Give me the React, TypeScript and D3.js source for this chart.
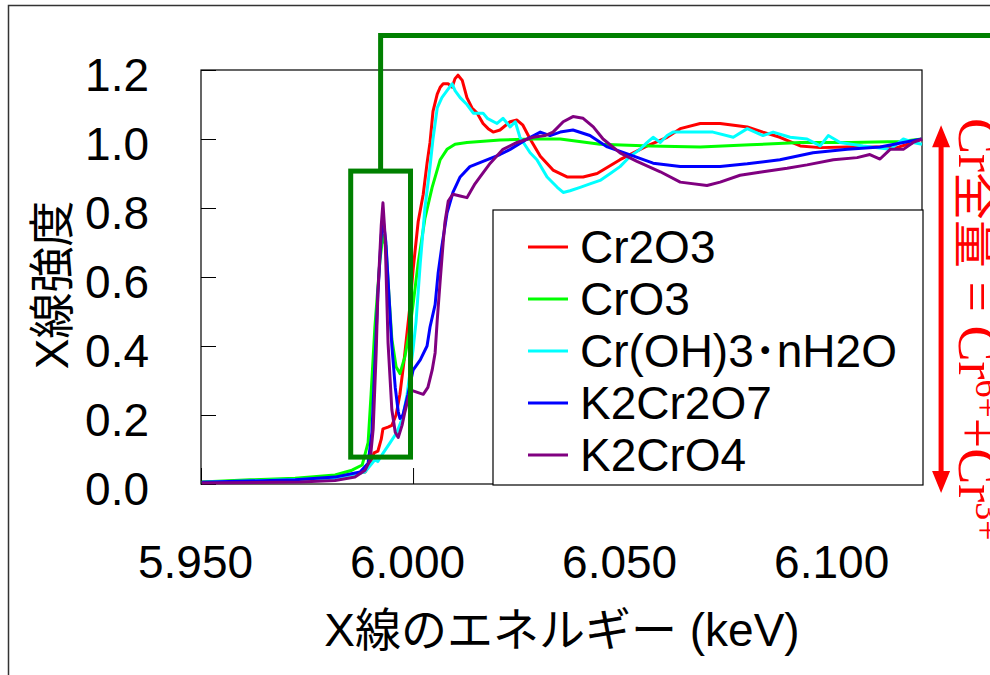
import React, { useEffect, useRef } from "react";
import * as d3 from "d3";

// values (energy keV, normalised intensity)
const xTicks = [5.95, 6.0, 6.05, 6.1];
const yTicks = [0, 0.2, 0.4, 0.6, 0.8, 1.0, 1.2];
const seriesNames = ["Cr2O3", "CrO3", "Cr(OH)3･nH2O", "K2Cr2O7", "K2CrO4"];
const seriesColors = ["#ff0000", "#00ff00", "#00ffff", "#0000ff", "#800080"];

const cr2o3: [number, number][] = [
  [5.9502, 0.005], [5.9722, 0.014], [5.9816, 0.02], [5.9887, 0.035], [5.9899, 0.06],
  [5.9908, 0.09], [5.9917, 0.095], [5.9925, 0.13], [5.9929, 0.16], [5.9941, 0.165],
  [5.995, 0.17], [5.996, 0.2], [5.9969, 0.26], [5.9979, 0.36], [5.9986, 0.44],
  [5.9993, 0.52], [6.0, 0.62], [6.0012, 0.76], [6.0024, 0.84], [6.0033, 0.93],
  [6.004, 0.99], [6.0047, 1.08], [6.0057, 1.13], [6.0064, 1.15], [6.0071, 1.16],
  [6.0083, 1.16], [6.0092, 1.15], [6.0099, 1.175], [6.0106, 1.185], [6.0116, 1.17],
  [6.0127, 1.12], [6.0139, 1.09], [6.0151, 1.075], [6.0165, 1.045], [6.0177, 1.03],
  [6.0189, 1.02], [6.0205, 1.026], [6.0229, 1.05], [6.0245, 1.055], [6.0259, 1.04],
  [6.0276, 1.0], [6.03, 0.95], [6.033, 0.91], [6.0363, 0.89], [6.0401, 0.89],
  [6.0434, 0.9], [6.0488, 0.94], [6.0552, 0.98], [6.0599, 1.005], [6.063, 1.03],
  [6.0677, 1.045], [6.0724, 1.045], [6.0788, 1.035], [6.0825, 1.02], [6.0865, 1.005],
  [6.0913, 0.98], [6.096, 0.975], [6.1024, 0.977], [6.1101, 0.977], [6.1141, 0.975],
  [6.1179, 0.99], [6.12, 1.0],
];

const cro3: [number, number][] = [
  [5.9502, 0.006], [5.9616, 0.012], [5.9722, 0.017], [5.9816, 0.026], [5.9856, 0.04],
  [5.988, 0.055], [5.9894, 0.12], [5.9901, 0.26], [5.991, 0.455], [5.9922, 0.65],
  [5.9929, 0.72], [5.9936, 0.69], [5.9943, 0.55], [5.995, 0.42], [5.996, 0.34],
  [5.9969, 0.32], [5.9981, 0.37], [5.9991, 0.44], [6.0, 0.52], [6.0012, 0.64],
  [6.0028, 0.77], [6.0045, 0.86], [6.0064, 0.94], [6.008, 0.97], [6.0099, 0.985],
  [6.0127, 0.99], [6.0205, 0.997], [6.0283, 1.0], [6.0347, 1.0], [6.0441, 0.985],
  [6.0559, 0.98], [6.0677, 0.977], [6.0795, 0.983], [6.0913, 0.99], [6.1031, 0.99],
  [6.1149, 0.993], [6.12, 1.0],
];

const croh3: [number, number][] = [
  [5.9502, 0.005], [5.9722, 0.013], [5.9816, 0.017], [5.9887, 0.035], [5.991, 0.07],
  [5.9917, 0.065], [5.9927, 0.085], [5.9946, 0.12], [5.9962, 0.15], [5.9976, 0.195],
  [5.9986, 0.26], [6.0, 0.39], [6.0007, 0.47], [6.0017, 0.64], [6.0028, 0.8],
  [6.004, 0.92], [6.0047, 1.0], [6.0057, 1.09], [6.0068, 1.12], [6.008, 1.14],
  [6.0092, 1.16], [6.0099, 1.14], [6.0111, 1.12], [6.0127, 1.1], [6.0142, 1.075],
  [6.0165, 1.075], [6.0175, 1.06], [6.0198, 1.045], [6.0212, 1.06], [6.0229, 1.035],
  [6.0241, 1.05], [6.0252, 1.005], [6.0276, 0.96], [6.0292, 0.94], [6.0316, 0.89],
  [6.034, 0.86], [6.0354, 0.845], [6.037, 0.85], [6.0394, 0.86], [6.0417, 0.87],
  [6.0441, 0.88], [6.0465, 0.9], [6.0488, 0.92], [6.0512, 0.95], [6.0535, 0.97],
  [6.0552, 0.99], [6.0566, 1.005], [6.0583, 0.99], [6.0599, 1.01], [6.0613, 1.02],
  [6.0646, 1.02], [6.0707, 1.02], [6.0755, 1.005], [6.0788, 1.03], [6.0825, 1.01],
  [6.0849, 1.02], [6.0889, 1.005], [6.0929, 1.0], [6.096, 0.98], [6.0979, 1.01],
  [6.1007, 0.99], [6.1061, 0.98], [6.1125, 0.97], [6.1156, 1.0], [6.1179, 0.99],
  [6.12, 0.985],
];

const k2cr2o7: [number, number][] = [
  [5.9502, 0.005], [5.9722, 0.012], [5.9816, 0.02], [5.9875, 0.035], [5.9894, 0.06],
  [5.9903, 0.15], [5.991, 0.35], [5.9917, 0.55], [5.9925, 0.72], [5.9929, 0.77],
  [5.9936, 0.7], [5.9943, 0.55], [5.995, 0.4], [5.9958, 0.28], [5.9965, 0.21],
  [5.9969, 0.19], [5.9976, 0.2], [5.9988, 0.26], [6.0, 0.33], [6.0017, 0.36],
  [6.0033, 0.4], [6.004, 0.455], [6.0052, 0.52], [6.0059, 0.61], [6.0068, 0.69],
  [6.008, 0.785], [6.0094, 0.845], [6.0111, 0.89], [6.0134, 0.92], [6.0165, 0.935],
  [6.0205, 0.955], [6.0229, 0.97], [6.0269, 1.0], [6.03, 1.02], [6.0323, 1.01],
  [6.0347, 1.02], [6.0377, 1.026], [6.0417, 1.01], [6.0458, 0.977], [6.0512, 0.954],
  [6.0566, 0.93], [6.063, 0.92], [6.0724, 0.92], [6.0788, 0.928], [6.0865, 0.94],
  [6.0943, 0.96], [6.1024, 0.97], [6.1101, 0.977], [6.1156, 0.99], [6.12, 1.0],
];

const k2cro4: [number, number][] = [
  [5.9502, 0.003], [5.9733, 0.006], [5.9816, 0.01], [5.9863, 0.02], [5.9887, 0.04],
  [5.9899, 0.07], [5.9906, 0.16], [5.9913, 0.38], [5.9917, 0.55], [5.9925, 0.75],
  [5.9929, 0.815], [5.9934, 0.72], [5.9941, 0.41], [5.995, 0.215], [5.9958, 0.15],
  [5.9965, 0.135], [5.9974, 0.17], [5.9981, 0.21], [5.9993, 0.27], [6.0, 0.27],
  [6.0012, 0.265], [6.0024, 0.26], [6.0035, 0.28], [6.0045, 0.33], [6.0052, 0.38],
  [6.0057, 0.475], [6.0064, 0.59], [6.0071, 0.7], [6.0075, 0.757], [6.0083, 0.82],
  [6.0094, 0.84], [6.0111, 0.835], [6.0127, 0.83], [6.0146, 0.87], [6.0158, 0.89],
  [6.0182, 0.93], [6.0212, 0.97], [6.0245, 0.99], [6.0283, 1.005], [6.0311, 1.01],
  [6.033, 1.02], [6.0354, 1.05], [6.0377, 1.065], [6.0401, 1.06], [6.0425, 1.035],
  [6.0448, 1.0], [6.0488, 0.96], [6.0528, 0.935], [6.0583, 0.905], [6.063, 0.875],
  [6.0693, 0.865], [6.0724, 0.875], [6.0771, 0.895], [6.0825, 0.905], [6.0882, 0.915],
  [6.0929, 0.925], [6.0991, 0.94], [6.1047, 0.946], [6.1077, 0.955], [6.1101, 0.942],
  [6.1125, 0.97], [6.1156, 0.97], [6.1179, 0.99], [6.12, 1.0],
];

const allSeries = [cr2o3, cro3, croh3, k2cr2o7, k2cro4];

// annotation extents in data units
const zoomBoxE = [5.9853, 5.9994];
const zoomBoxI = [0.078, 0.907];
const leaderTopI = 1.3;
const arrowE = 6.1245;
const arrowI = [1.04, -0.026];

const SANS = "'Liberation Sans', Arial, 'Noto Sans CJK JP', sans-serif";
const SERIF = "'Liberation Serif', 'Times New Roman', serif";

export default function App() {
  const svgRef = useRef<SVGSVGElement>(null);

  useEffect(() => {
    const svg = d3.select(svgRef.current);
    svg.selectAll("*").remove();

    const x = d3.scaleLinear().domain([5.95, 6.12]).range([201, 922]);
    const y = d3.scaleLinear().domain([0, 1.2]).range([484, 70]);

    // outer frame of the picture
    svg.append("rect")
      .attr("x", 8.5).attr("y", 5.5).attr("width", 1100).attr("height", 1100)
      .attr("fill", "#fff").attr("stroke", "#333").attr("stroke-width", 1.5);

    // plot frame
    svg.append("rect")
      .attr("x", x(5.95)).attr("y", y(1.2))
      .attr("width", x(6.12) - x(5.95)).attr("height", y(0) - y(1.2))
      .attr("fill", "#fff").attr("stroke", "#000").attr("stroke-width", 1.2);

    // y axis, ticks pointing inward
    const gy = svg.append("g")
      .attr("transform", `translate(${x(5.95)},0)`)
      .call(d3.axisLeft(y).tickValues(yTicks).tickSize(-15).tickSizeOuter(0).tickPadding(52).tickFormat(d3.format(".1f")));
    gy.select(".domain").remove();
    gy.selectAll("line").attr("stroke", "#000");
    gy.selectAll("text")
      .attr("font-family", SANS).attr("font-size", 46).attr("fill", "#000").attr("dy", "0.44em");

    // x axis
    const gx = svg.append("g")
      .attr("transform", `translate(0,${y(0)})`)
      .call(d3.axisBottom(x).tickValues(xTicks).tickSize(-16).tickSizeOuter(0).tickPadding(94).tickFormat(d3.format(".3f")));
    gx.select(".domain").remove();
    gx.selectAll("line").attr("stroke", "#000");
    gx.selectAll("text")
      .attr("font-family", SANS).attr("font-size", 46).attr("fill", "#000").attr("dy", 0).attr("dx", -6);

    // spectra
    const lineGen = d3.line<[number, number]>()
      .x((d) => x(d[0]))
      .y((d) => y(d[1]));

    allSeries.forEach((s, i) => {
      svg.append("path")
        .datum(s)
        .attr("fill", "none")
        .attr("stroke", seriesColors[i])
        .attr("stroke-width", 3)
        .attr("stroke-linejoin", "round")
        .attr("d", lineGen);
    });

    // legend
    const lg = svg.append("g");
    lg.append("rect")
      .attr("x", 493).attr("y", 210).attr("width", 430).attr("height", 275)
      .attr("fill", "#fff").attr("stroke", "#000").attr("stroke-width", 1.2);
    seriesNames.forEach((name, i) => {
      const ry = 247 + i * 52;
      lg.append("line")
        .attr("x1", 528).attr("x2", 568).attr("y1", ry).attr("y2", ry)
        .attr("stroke", seriesColors[i]).attr("stroke-width", 3);
      lg.append("text")
        .attr("x", 580).attr("y", ry + 16)
        .attr("font-family", SANS).attr("font-size", 46).attr("fill", "#000")
        .text(name);
    });

    // green zoom box and leader line
    const green = "#008000";
    svg.append("rect")
      .attr("x", x(zoomBoxE[0])).attr("y", y(zoomBoxI[1]))
      .attr("width", x(zoomBoxE[1]) - x(zoomBoxE[0]))
      .attr("height", y(zoomBoxI[0]) - y(zoomBoxI[1]))
      .attr("fill", "none").attr("stroke", green).attr("stroke-width", 5);
    const cx = (x(zoomBoxE[0]) + x(zoomBoxE[1])) / 2;
    svg.append("path")
      .attr("d", `M${cx},${y(zoomBoxI[1])} V${y(leaderTopI)} H${x(6.15)}`)
      .attr("fill", "none").attr("stroke", green).attr("stroke-width", 5);

    // red double arrow
    const ax = x(arrowE);
    const aTop = y(arrowI[0]);
    const aBot = y(arrowI[1]);
    svg.append("line")
      .attr("x1", ax).attr("x2", ax).attr("y1", aTop + 15).attr("y2", aBot - 15)
      .attr("stroke", "#ff0000").attr("stroke-width", 5);
    svg.append("path")
      .attr("d", `M${ax},${aTop} L${ax - 9},${aTop + 22} L${ax + 9},${aTop + 22} Z M${ax},${aBot} L${ax - 9},${aBot - 22} L${ax + 9},${aBot - 22} Z`)
      .attr("fill", "#ff0000");

    // red vertical note (runs off the right edge, as in the source)
    const note = svg.append("text")
      .attr("transform", "translate(959,118) rotate(90)")
      .attr("font-family", SERIF).attr("font-size", 54).attr("fill", "#ff0000");
    note.append("tspan").text("Cr");
    note.append("tspan").attr("font-family", "'Noto Sans CJK JP', sans-serif").attr("font-size", 48).text("全量");
    note.append("tspan").text(" = Cr");
    note.append("tspan").attr("font-size", 36).attr("dy", -17).text("6+");
    note.append("tspan").attr("dy", 17).text("+Cr");
    note.append("tspan").attr("font-size", 36).attr("dy", -17).text("3+");

    // axis titles
    svg.append("text")
      .attr("transform", "translate(52,285) rotate(-90)")
      .attr("text-anchor", "middle").attr("dominant-baseline", "central")
      .attr("font-family", SANS).attr("font-size", 46).attr("fill", "#000")
      .text("X線強度");
    svg.append("text")
      .attr("x", 562).attr("y", 646)
      .attr("text-anchor", "middle")
      .attr("font-family", SANS).attr("font-size", 46).attr("fill", "#000")
      .text("X線のエネルギー (keV)");
  }, []);

  return (
    <svg
      ref={svgRef}
      width={990}
      height={675}
      style={{ position: "absolute", left: 0, top: 0, display: "block", background: "#fff" }}
    />
  );
}
